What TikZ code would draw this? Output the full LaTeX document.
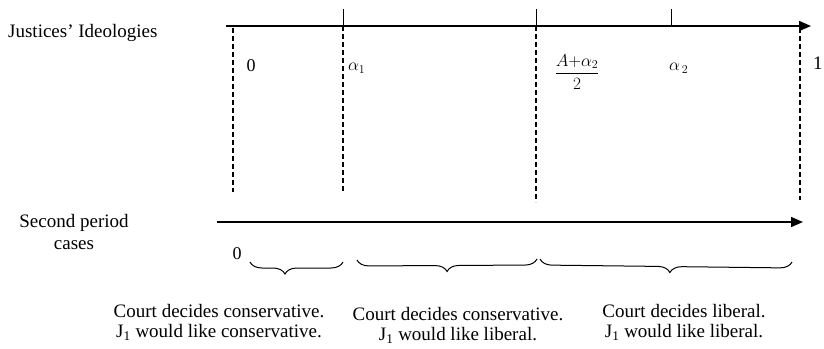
\documentclass[tikz,border=0pt]{standalone}
\usepackage{fontspec}
\setmainfont{Liberation Serif}
\usetikzlibrary{arrows.meta,decorations.pathreplacing}
\begin{document}
\begin{tikzpicture}[x=1pt,y=-1pt,
  axis/.style={line width=1.4pt,-{Triangle[length=12pt,width=10pt]}},
  tick/.style={line width=1pt},
  guide/.style={line width=1.1pt,dash pattern=on 5pt off 3pt},
  bigtext/.style={font=\fontsize{19}{20}\selectfont,align=center,inner sep=0pt},
  lbl/.style={font=\fontsize{18}{20}\selectfont,inner sep=0pt},
  brc/.style={decorate,line width=1pt,decoration={brace,mirror,amplitude=12pt}}]
\useasboundingbox (0,0) rectangle (824,348);
% top axis
\coordinate (t0) at (226,26);
\coordinate (t1) at (811,26);
\draw[axis] (t0) -- (t1);
\coordinate (k1) at (343,26); \coordinate (k1u) at (343,9);
\coordinate (k2) at (536,26); \coordinate (k2u) at (536,9);
\coordinate (k3) at (671,26); \coordinate (k3u) at (671,9);
\draw[tick] (k1) -- (k1u);
\draw[tick] (k2) -- (k2u);
\draw[tick] (k3) -- (k3u);
% dashed guides
\coordinate (d0a) at (233,28); \coordinate (d0b) at (233,192);
\coordinate (d1b) at (343,193);
\coordinate (d2b) at (536,202);
\coordinate (d3a) at (800,28); \coordinate (d3b) at (800,200);
\draw[guide] (d0a) -- (d0b);
\draw[guide] (k1) -- (d1b);
\draw[guide] (k2) -- (d2b);
\draw[guide] (d3a) -- (d3b);
% top labels
\node[bigtext,anchor=west] (ji) at (8,33) {Justices’ Ideologies};
\node[lbl] (z0) at (251,66) {0};
\node[lbl,anchor=west] (a1) at (348,68) {$\alpha_1$};
\node[lbl] (fr) at (577,72) {$\displaystyle\frac{A{+}\alpha_2}{2}$};
\node[lbl,anchor=west] (a2) at (669,68) {$\alpha_{\,2}$};
\node[bigtext,anchor=west] (one) at (813,63) {1};
% second axis
\coordinate (s0) at (217,222);
\coordinate (s1) at (803,222);
\draw[axis] (s0) -- (s1);
\node[bigtext] (spc) at (74,232) {Second period\\[2pt]cases};
\node[lbl] (z1) at (237,254) {0};
% braces
\coordinate (b1a) at (250,262); \coordinate (b1b) at (343,262);
\coordinate (b2a) at (357,260); \coordinate (b2b) at (537,259);
\coordinate (b3a) at (540,259); \coordinate (b3b) at (792,262);
\draw[brc,decoration={aspect=0.376}] (b1a) -- (b1b);
\draw[brc,decoration={aspect=0.5}] (b2a) -- (b2b);
\draw[brc,decoration={aspect=0.516}] (b3a) -- (b3b);
% bottom texts
\node[bigtext] (c1) at (219,322) {Court decides conservative.\\J\textsubscript{1} would like conservative.};
\node[bigtext] (c2) at (458,325) {Court decides conservative.\\J\textsubscript{1} would like liberal.};
\node[bigtext] (c3) at (684,322) {Court decides liberal.\\J\textsubscript{1} would like liberal.};
\end{tikzpicture}
\end{document}
